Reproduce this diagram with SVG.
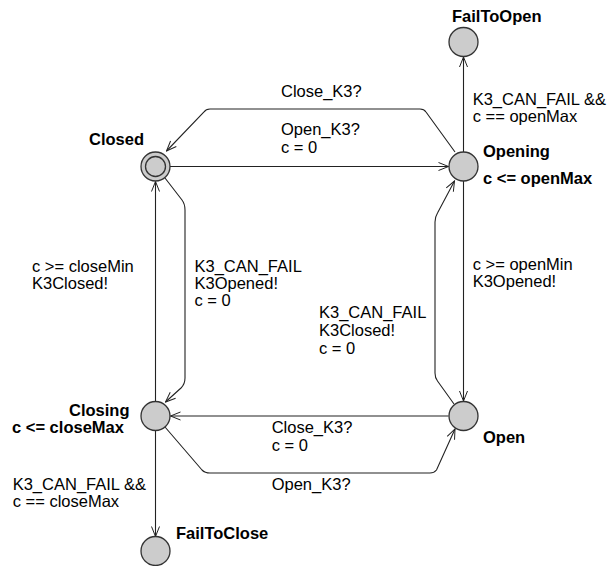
<svg xmlns="http://www.w3.org/2000/svg" width="611" height="566" viewBox="0 0 611 566">
<defs>
<marker id="arr" viewBox="0 0 12 10" refX="11" refY="5" markerWidth="12" markerHeight="10" markerUnits="userSpaceOnUse" orient="auto">
<path d="M1,1 L11,5 L1,9" fill="none" stroke="#222" stroke-width="1"/>
</marker>
</defs>
<style>
.loc{fill:#cccccc;stroke:#333;stroke-width:1.3}
.edge{fill:none;stroke:#222;stroke-width:1.1;marker-end:url(#arr)}
.lbl{font-family:"Liberation Sans",Arial,sans-serif;font-size:16.5px;fill:#000}
.name{font-family:"Liberation Sans",Arial,sans-serif;font-size:16.5px;font-weight:bold;fill:#000}
</style>
<rect width="611" height="566" fill="#fff"/>
<g id="connectors">
<path class="edge" d="M170,166.5 L448.5,166.5"/>
<path class="edge" d="M455,152 L426,112 Q424,109 420,109 L210,109 Q206,109 204,112 L166.5,151"/>
<path class="edge" d="M165,178 L182,200 Q185,204 185,210 L185,378 Q185,384 181,388 L165.5,402"/>
<path class="edge" d="M155.5,401 L155.5,181.5"/>
<path class="edge" d="M463.5,181 L463.5,401"/>
<path class="edge" d="M454,404 L437.5,381 Q435,378 435,373 L435,222 Q435,217 437.5,213 L454.5,181"/>
<path class="edge" d="M448.5,416 L170.5,416"/>
<path class="edge" d="M165,427 L202,470 Q205,473 210,473 L430,473 Q434,473 436.5,470 L455,429"/>
<path class="edge" d="M463.5,152 L463.5,57"/>
<path class="edge" d="M155.5,431 L155.5,536.5"/>
<text class="lbl" x="281" y="97">Close_K3?</text>
<text class="lbl" x="281" y="135">Open_K3?</text>
<text class="lbl" x="281" y="153">c = 0</text>
<text class="lbl" x="472.7" y="105">K3_CAN_FAIL &amp;&amp;</text>
<text class="lbl" x="472.7" y="122">c == openMax</text>
<text class="lbl" x="32" y="272">c &gt;= closeMin</text>
<text class="lbl" x="32" y="289">K3Closed!</text>
<text class="lbl" x="194.5" y="272">K3_CAN_FAIL</text>
<text class="lbl" x="194.5" y="289">K3Opened!</text>
<text class="lbl" x="194.5" y="306">c = 0</text>
<text class="lbl" x="472.7" y="270">c &gt;= openMin</text>
<text class="lbl" x="472.7" y="287">K3Opened!</text>
<text class="lbl" x="319" y="318">K3_CAN_FAIL</text>
<text class="lbl" x="319" y="336">K3Closed!</text>
<text class="lbl" x="319" y="354">c = 0</text>
<text class="lbl" x="271.7" y="433">Close_K3?</text>
<text class="lbl" x="271.7" y="451">c = 0</text>
<text class="lbl" x="271.7" y="490">Open_K3?</text>
<text class="lbl" x="12.7" y="490">K3_CAN_FAIL &amp;&amp;</text>
<text class="lbl" x="12.7" y="507">c == closeMax</text>
</g>
<g id="Closed">
<circle class="loc" cx="155.5" cy="166.5" r="14.5"/>
<circle cx="155.5" cy="166.5" r="10" fill="none" stroke="#333" stroke-width="1.3"/>
<text class="name" x="89" y="145">Closed</text>
</g>
<g id="Opening">
<circle class="loc" cx="463.5" cy="166.5" r="14.5"/>
<text class="name" x="483" y="156.7">Opening</text>
<text class="name" x="483" y="183.5">c &lt;= openMax</text>
</g>
<g id="Open">
<circle class="loc" cx="463.5" cy="416" r="14.5"/>
<text class="name" x="483" y="443">Open</text>
</g>
<g id="Closing">
<circle class="loc" cx="155.5" cy="416" r="14.5"/>
<text class="name" x="69" y="416">Closing</text>
<text class="name" x="12" y="433">c &lt;= closeMax</text>
</g>
<g id="FailToOpen">
<circle class="loc" cx="463.5" cy="42" r="14.5"/>
<text class="name" x="452" y="22">FailToOpen</text>
</g>
<g id="FailToClose">
<circle class="loc" cx="155.5" cy="551" r="14.5"/>
<text class="name" x="176" y="539">FailToClose</text>
</g>
</svg>
